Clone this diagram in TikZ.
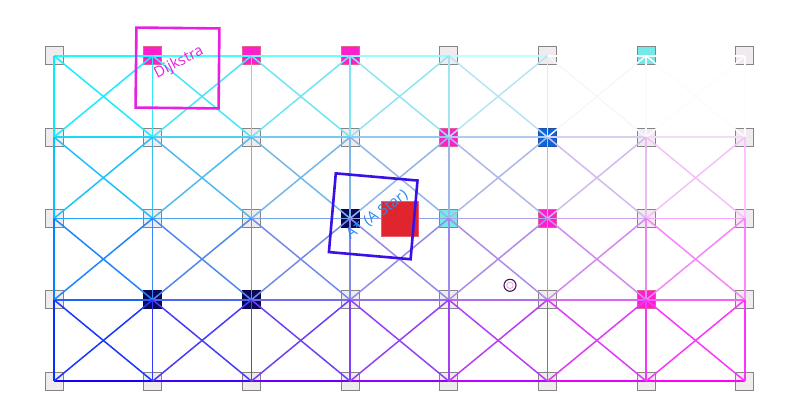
\documentclass[tikz,border=0pt]{standalone}
\usepackage{fontspec}
\setmainfont{Open Sans}
\definecolor{cellfill}{HTML}{EFEBEF}
\definecolor{cellline}{HTML}{858585}
\definecolor{pinkfill}{HTML}{FF1ECB}
\definecolor{pinkline}{HTML}{E0608E}
\definecolor{cyanfill}{HTML}{72EAEA}
\definecolor{bluefill}{HTML}{0A64DC}
\definecolor{blueline}{HTML}{2050A0}
\definecolor{navyfill}{HTML}{0A0A5C}
\definecolor{redfill}{HTML}{E0252F}
\definecolor{redline}{HTML}{F05A66}
\definecolor{dijk}{HTML}{E622E0}
\definecolor{astarbox}{HTML}{3A10E6}
\definecolor{astartext}{HTML}{2A8CF0}
\definecolor{ringout}{HTML}{4A1850}
\definecolor{ringin}{HTML}{E8A8E8}
\newcommand\setedgecolor[2]{%
  \pgfmathsetmacro\ecU{#1}\pgfmathsetmacro\ecV{#2}%
  \pgfmathsetmacro\ecK{0.35*16*\ecU*(1-\ecU)*\ecV*(1-\ecV)}%
  \pgfmathsetmacro\ecW{max(0,min(1,(\ecU-0.65)/0.15))*max(0,min(1,(0.2-\ecV)/0.1))}%
  \pgfmathsetmacro\ecR{min(1,1.15*\ecU)}%
  \pgfmathsetmacro\ecG{1-(0.6*\ecV*\ecV+0.4*\ecV)}%
  \pgfmathsetmacro\ecR{(1-\ecK)*\ecR+\ecK*0.55}%
  \pgfmathsetmacro\ecG{(1-\ecK)*\ecG+\ecK*0.6}%
  \pgfmathsetmacro\ecB{(1-\ecK)+\ecK*0.72}%
  \pgfmathsetmacro\ecR{\ecR+\ecW*(1-\ecR)}%
  \pgfmathsetmacro\ecG{\ecG+\ecW*(1-\ecG)}%
  \pgfmathsetmacro\ecB{\ecB+\ecW*(1-\ecB)}%
  \definecolor{ec}{rgb}{\ecR,\ecG,\ecB}}
\tikzset{
  cell/.style={rectangle, minimum size=18pt, inner sep=0pt, line width=0.9pt},
  plaincell/.style={fill=cellfill, draw=cellline},
  pinkcell/.style={fill=pinkfill, draw=pinkline},
  cyancell/.style={fill=cyanfill, draw=cellline},
  bluecell/.style={fill=bluefill, draw=blueline},
  navycell/.style={fill=navyfill, draw=navyfill!80!black},
  k12/.style={pinkcell}, k13/.style={pinkcell}, k14/.style={pinkcell}, k17/.style={cyancell},
  k25/.style={pinkcell}, k26/.style={bluecell},
  k34/.style={navycell}, k35/.style={cyancell}, k36/.style={pinkcell},
  k42/.style={navycell}, k43/.style={navycell}, k47/.style={pinkcell},
  edge/.style={draw=ec, line width=1.5pt},
  markbox/.style={draw, line width=2.6pt, inner sep=0pt},
  label/.style={inner sep=0pt, font=\fontsize{15}{17}\selectfont}
}
\begin{document}
\begin{tikzpicture}[x=1pt,y=-1pt]
\useasboundingbox (0,0) rectangle (800,412);
% grid cells
\foreach \ri/\py in {1/55.8,2/137.1,3/218.4,4/299.8,5/381.1}{%
 \foreach \ci/\px in {1/54,2/152.7,3/251.4,4/350.1,5/448.8,6/547.5,7/646.2,8/744.9}{%
  \pgfkeysifdefined{/tikz/k\ri\ci/.@cmd}{\edef\sty{k\ri\ci}}{\def\sty{plaincell}}%
  \edef\tmp{\noexpand\node[cell,\sty] (n\ri-\ci) at (\px,\py) {};}\tmp
}}
% horizontal edges
\foreach \ri in {1,...,5}{\foreach \ci [evaluate=\ci as \cj using int(\ci+1)] in {1,...,7}{%
  \setedgecolor{(\ci-0.5)/7}{(\ri-1)/4}%
  \draw[edge] (n\ri-\ci.center) -- (n\ri-\cj.center);
}}
% vertical edges
\foreach \ri [evaluate=\ri as \rj using int(\ri+1)] in {1,...,4}{\foreach \ci in {1,...,8}{%
  \setedgecolor{(\ci-1)/7}{(\ri-0.5)/4}%
  \draw[edge] (n\ri-\ci.center) -- (n\rj-\ci.center);
}}
% diagonal edges
\foreach \ri [evaluate=\ri as \rj using int(\ri+1)] in {1,...,4}{\foreach \ci [evaluate=\ci as \cj using int(\ci+1)] in {1,...,7}{%
  \setedgecolor{(\ci-0.5)/7}{(\ri-0.5)/4}%
  \draw[edge] (n\ri-\ci.center) -- (n\rj-\cj.center);
  \draw[edge] (n\ri-\cj.center) -- (n\rj-\ci.center);
}}
% target block
\node[rectangle, fill=redfill, draw=redline, line width=0.8pt, minimum width=37pt, minimum height=35.5pt, inner sep=0pt] (goal) at (399.5,218.7) {};
% small ring
\node[circle, draw=ringout, line width=1.1pt, minimum size=12pt, inner sep=0pt] (ring) at (510,285.3) {};
\node[circle, draw=ringin, line width=0.9pt, minimum size=6.5pt, inner sep=0pt] (ringcore) at (ring.center) {};
% Dijkstra marker
\node[markbox, draw=dijk, minimum width=83pt, minimum height=80pt, rotate=-0.6] (dbox) at (177.5,68) {};
\node[label, text=dijk, rotate=27] (dtext) at (179,62.5) {Dijkstra};
% A* marker
\node[markbox, draw=astarbox, minimum width=82pt, minimum height=79pt, rotate=-5] (abox) at (373.2,216.3) {};
\node[label, text=astartext, rotate=36] (atext) at (377,214.5) {A* (A Star)};
\end{tikzpicture}
\end{document}
